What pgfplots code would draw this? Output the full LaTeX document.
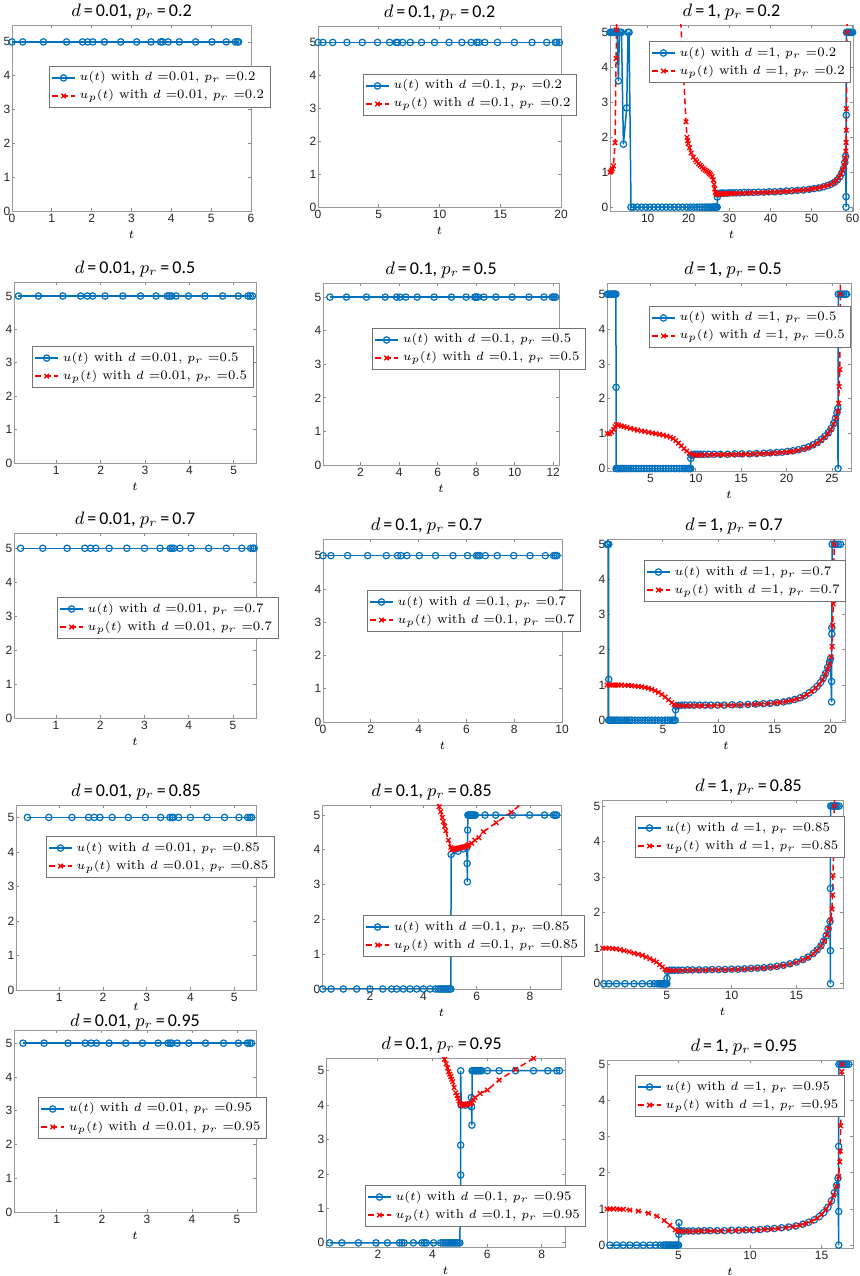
\documentclass[border=0pt]{standalone}
\usepackage{fontspec}
\usepackage{pgfplots}
\pgfplotsset{compat=1.18}
\newfontfamily\tickfont{Liberation Sans}
\newfontfamily\titlefont{Carlito}
\definecolor{mblue}{RGB}{0,114,189}
\newcommand{\ttl}[2]{$d$\,=\,#1, $p_r$\,=\,#2}
\newcommand{\leg}[2]{\legend{{$u(t)$ with $d$ =#1, $p_r$ =#2},{$u_p(t)$ with $d$ =#1, $p_r$ =#2}}}
\pgfplotsset{
  shortleg/.style={legend image code/.code={\draw[mark repeat=2,mark phase=2] plot coordinates {(0cm,0cm) (0.2cm,0cm) (0.4cm,0cm)};}},
  uline/.style={shortleg, color=mblue, solid, line width=0.75pt, mark=o, mark size=1.6pt, mark options={solid, line width=0.6pt}},
  upline/.style={shortleg, color=red, dash pattern=on 3pt off 1.8pt, line width=0.75pt, mark=x, mark size=1.6pt, mark options={solid, line width=0.65pt}},
  panel/.style={
    scale only axis, anchor=south west,
    axis line style={black!40},
    every tick/.style={black!45, line width=0.4pt},
    major tick length=1.6pt,
    tick align=inside,
    ticklabel style={font=\tickfont\fontsize{6}{6.5}\selectfont, text=black!85},
    yticklabel style={inner xsep=0.6pt},
    xticklabel style={inner ysep=1.5pt},
    /pgf/number format/assume math mode=true,
    ytick={0,1,2,3,4,5},
    xlabel={$t$},
    xlabel style={font=\fontsize{6.5}{7}\selectfont, inner sep=1pt, yshift=-1.5pt},
    title style={font=\titlefont\fontsize{9}{10}\selectfont, inner sep=2pt, yshift=-5.75pt},
    legend style={font=\fontsize{6.5}{7.4}\selectfont, draw=black!55, fill=white, anchor=north west, inner xsep=1pt, inner ysep=0.8pt, row sep=-1pt},
    legend cell align=left,
    clip=true,
  },
}
\begin{document}
\begin{tikzpicture}
\useasboundingbox (0pt,0pt) rectangle (430pt,638pt);
% ---------------- row 1 ----------------
\begin{axis}[panel, at={(6pt,532.5pt)}, width=119.5pt, height=93pt, xmin=0, xmax=6, ymin=0, ymax=5.5, xtick={0,...,6}, title={\ttl{0.01}{0.2}}, legend style={at={(0.155,0.78)}}]
\addplot[uline] coordinates {(0,5)(0.27,5)(0.79,5)(1.37,5)(1.77,5)(1.90,5)(2.03,5)(2.32,5)(2.73,5)(3.13,5)(3.49,5)(3.73,5)(3.78,5)(3.92,5)(4.20,5)(4.61,5)(5.02,5)(5.38,5)(5.61,5)(5.66,5)(5.69,5)};
\addlegendimage{upline}
\leg{0.01}{0.2}
\end{axis}
\begin{axis}[panel, at={(159pt,534.5pt)}, width=121.5pt, height=90.5pt, xmin=0, xmax=20, ymin=0, ymax=5.5, xtick={0,5,...,20}, title={\ttl{0.1}{0.2}}, legend style={at={(0.185,0.735)}}]
\addplot[uline] coordinates {(0,5)(0.41,5)(1.21,5)(2.38,5)(3.64,5)(4.9,5)(5.89,5)(6.44,5)(6.55,5)(6.96,5)(7.59,5)(8.52,5)(9.59,5)(10.79,5)(11.84,5)(12.6,5)(13.07,5)(13.23,5)(13.73,5)(14.77,5)(16.16,5)(17.62,5)(18.82,5)(19.53,5)(19.64,5)(19.86,5)};
\addlegendimage{upline}
\leg{0.1}{0.2}
\end{axis}
\begin{axis}[panel, at={(305pt,532.5pt)}, width=121.5pt, height=93pt, xmin=0.8, xmax=60.1, ymin=-0.11, ymax=5.21, xtick={10,20,...,60}, title={\ttl{1}{0.2}}, legend style={at={(0.16,0.914)}}]
\addplot[uline] coordinates {(0.8,5)(1.05,5)(1.3,5)(1.55,5)(1.8,5)(2.05,5)(2.3,5)(2.55,5)(2.85,3.61)(3.1,5)(3.35,5)(3.6,5)(4.07,1.8)(4.88,2.84)(5.2,5)(5.45,5)(5.93,0)(6.5,0)(7.5,0)(8.5,0)(9.5,0)(10.5,0)(11.5,0)(12.5,0)(13.5,0)(14.5,0)(15.5,0)(16.5,0)(17.5,0)(18.5,0)(19.5,0)(20.4,0)(21.2,0)(22,0)(22.7,0)(23.3,0)(23.9,0)(24.4,0)(24.9,0)(25.3,0)(25.7,0)(26,0)(26.3,0)(26.55,0)(26.8,0)(26.95,0)(27,0.29)(27.1,0.38)(27.3,0.39)(27.6,0.39)(27.9,0.4)(28.3,0.4)(28.8,0.4)(29.4,0.4)(30,0.41)(30.8,0.41)(31.6,0.41)(32.5,0.41)(33.5,0.42)(34.6,0.42)(35.8,0.42)(37,0.43)(38.3,0.43)(39.6,0.44)(41,0.44)(42.4,0.45)(43.8,0.46)(45.2,0.47)(46.6,0.48)(48,0.49)(49.4,0.51)(50.6,0.53)(51.8,0.55)(52.9,0.58)(53.9,0.62)(54.8,0.66)(55.6,0.71)(56.3,0.78)(56.9,0.87)(57.4,0.98)(57.8,1.1)(58.1,1.28)(58.3,1.45)(58.4,0.3)(58.4,0)(58.45,2.63)(58.45,4.15)(58.5,5)(58.75,5)(59,5)(59.25,5)(59.5,5)(59.75,5)(60,5)};
\addplot[upline] coordinates {(0.8,1.0)(1.0,1.01)(1.2,1.05)(1.4,1.1)(1.63,1.18)(2.03,1.84)(2.28,4.25)(2.4,5.07)(2.6,9)(3,30)(17.8,30)(17.95,5.55)(19.35,2.44)(19.6,2.0)(19.75,1.9)(19.9,1.82)(20.2,1.7)(20.6,1.55)(21.1,1.43)(21.6,1.35)(22.0,1.3)(22.4,1.24)(22.8,1.2)(23.2,1.15)(23.6,1.1)(24.0,1.06)(24.4,1.03)(24.8,1.0)(25.1,0.96)(25.4,0.92)(25.7,0.87)(26.0,0.78)(26.2,0.65)(26.35,0.52)(26.5,0.43)(26.7,0.38)(26.9,0.37)(27.2,0.37)(27.5,0.37)(27.8,0.38)(28.1,0.38)(28.5,0.38)(29,0.38)(29.5,0.39)(30.1,0.39)(30.8,0.39)(31.5,0.39)(32.3,0.4)(33.2,0.4)(34.1,0.4)(35,0.41)(36,0.41)(37,0.41)(38,0.42)(39,0.42)(40,0.43)(41,0.43)(42,0.44)(43,0.44)(44,0.45)(45,0.46)(46,0.47)(47,0.48)(48,0.49)(49,0.5)(50,0.52)(51,0.54)(52,0.56)(53,0.59)(54,0.62)(54.8,0.66)(55.5,0.71)(56.1,0.77)(56.7,0.85)(57.2,0.95)(57.6,1.06)(57.9,1.17)(58.1,1.28)(58.25,1.4)(58.35,1.6)(58.42,1.85)(58.47,2.2)(58.5,2.82)(58.55,3.63)(58.6,4.49)(58.65,5.0)(58.7,6.5)};
\leg{1}{0.2}
\end{axis}
% ---------------- row 2 ----------------
\begin{axis}[panel, at={(7pt,406.5pt)}, width=121pt, height=90.5pt, xmin=0.05, xmax=5.5, ymin=0, ymax=5.42, xtick={1,...,5}, title={\ttl{0.01}{0.5}}, legend style={at={(0.075,0.646)}}]
\addplot[uline] coordinates {(0.15,5)(0.6,5)(1.15,5)(1.55,5)(1.7,5)(1.82,5)(2.1,5)(2.5,5)(2.9,5)(3.25,5)(3.5,5)(3.55,5)(3.6,5)(3.7,5)(3.98,5)(4.35,5)(4.75,5)(5.1,5)(5.32,5)(5.37,5)(5.42,5)};
\addlegendimage{upline}
\leg{0.01}{0.5}
\end{axis}
\begin{axis}[panel, at={(161.5pt,405.5pt)}, width=118pt, height=91pt, xmin=0.05, xmax=12.3, ymin=0, ymax=5.42, xtick={2,4,...,12}, title={\ttl{0.1}{0.5}}, legend style={at={(0.208,0.753)}}]
\addplot[uline] coordinates {(0.41,5)(1.27,5)(2.31,5)(3.28,5)(3.87,5)(4.04,5)(4.35,5)(4.94,5)(5.82,5)(6.72,5)(7.48,5)(7.93,5)(8.00,5)(8.09,5)(8.40,5)(9.02,5)(9.87,5)(10.74,5)(11.52,5)(11.95,5)(12.03,5)(12.12,5)};
\addlegendimage{upline}
\leg{0.1}{0.5}
\end{axis}
\begin{axis}[panel, at={(303.5pt,402.5pt)}, width=122pt, height=94pt, xmin=0.22, xmax=27.1, ymin=-0.07, ymax=5.32, xtick={5,10,...,25}, title={\ttl{1}{0.5}}, title style={xshift=2pt}, legend style={at={(0.172,0.878)}}]
\addplot[uline] coordinates {(0.26,5)(0.4,5)(0.55,5)(0.7,5)(0.85,5)(1.0,5)(1.1,5)(1.2,5)(1.22,2.33)(1.22,0)(1.35,0)(1.5,0)(1.7,0)(1.9,0)(2.1,0)(2.35,0)(2.6,0)(2.85,0)(3.1,0)(3.4,0)(3.7,0)(4.0,0)(4.3,0)(4.6,0)(4.9,0)(5.2,0)(5.5,0)(5.8,0)(6.1,0)(6.4,0)(6.7,0)(7.0,0)(7.3,0)(7.6,0)(7.9,0)(8.2,0)(8.5,0)(8.75,0)(9.0,0)(9.2,0)(9.35,0)(9.44,0)(9.45,0.29)(9.55,0.38)(9.7,0.4)(9.9,0.41)(10.2,0.41)(10.5,0.41)(10.9,0.41)(11.4,0.41)(12,0.41)(12.7,0.41)(13.5,0.41)(14.3,0.42)(15.1,0.42)(15.9,0.42)(16.7,0.43)(17.5,0.44)(18.2,0.45)(18.9,0.46)(19.5,0.47)(20.1,0.49)(20.7,0.51)(21.3,0.54)(21.9,0.58)(22.4,0.62)(22.9,0.68)(23.4,0.75)(23.8,0.83)(24.2,0.92)(24.6,1.03)(24.9,1.15)(25.2,1.3)(25.4,1.45)(25.55,1.6)(25.65,1.72)(25.67,0)(25.7,5)(25.9,5)(26.1,5)(26.3,5)(26.5,5)(26.6,5)};
\addplot[upline] coordinates {(0.26,1.0)(0.5,1.0)(0.75,1.05)(0.95,1.12)(1.1,1.2)(1.25,1.26)(1.5,1.25)(1.8,1.22)(2.1,1.2)(2.4,1.18)(2.8,1.15)(3.2,1.13)(3.6,1.1)(4.0,1.08)(4.4,1.06)(4.8,1.04)(5.2,1.02)(5.6,1.0)(6.0,0.98)(6.4,0.96)(6.8,0.93)(7.2,0.9)(7.5,0.86)(7.8,0.8)(8.1,0.73)(8.4,0.65)(8.7,0.57)(9.0,0.5)(9.3,0.44)(9.6,0.4)(9.9,0.38)(10.2,0.39)(10.5,0.39)(11,0.39)(11.5,0.39)(12,0.4)(12.5,0.4)(13,0.4)(13.5,0.4)(14,0.4)(14.5,0.4)(15,0.41)(15.5,0.41)(16,0.41)(16.5,0.42)(17,0.42)(17.5,0.43)(18,0.43)(18.5,0.44)(19,0.45)(19.5,0.46)(20,0.47)(20.4,0.48)(20.8,0.5)(21.3,0.52)(21.9,0.56)(22.4,0.6)(22.9,0.66)(23.4,0.73)(23.8,0.81)(24.2,0.9)(24.6,1.0)(24.9,1.12)(25.2,1.27)(25.45,1.45)(25.65,1.65)(25.74,1.87)(25.8,2.35)(25.87,2.84)(25.9,3.85)(25.93,5.0)(25.97,6.5)};
\leg{1}{0.5}
\end{axis}
% ---------------- row 3 ----------------
\begin{axis}[panel, at={(7pt,279pt)}, width=121pt, height=92.5pt, xmin=0.05, xmax=5.52, ymin=0, ymax=5.45, xtick={1,...,5}, title={\ttl{0.01}{0.7}}, legend style={at={(0.178,0.654)}}]
\addplot[uline] coordinates {(0.2,5)(0.7,5)(1.25,5)(1.65,5)(1.78,5)(1.9,5)(2.2,5)(2.6,5)(3.0,5)(3.35,5)(3.58,5)(3.62,5)(3.66,5)(3.8,5)(4.05,5)(4.45,5)(4.85,5)(5.2,5)(5.4,5)(5.45,5)(5.48,5)};
\addlegendimage{upline}
\leg{0.01}{0.7}
\end{axis}
\begin{axis}[panel, at={(161.5pt,277pt)}, width=119.5pt, height=91.5pt, xmin=0, xmax=10, ymin=0, ymax=5.5, xtick={0,2,...,10}, title={\ttl{0.1}{0.7}}, title style={xshift=-8pt}, legend style={at={(0.184,0.721)}}]
\addplot[uline] coordinates {(0,5)(0.33,5)(1.03,5)(1.87,5)(2.65,5)(3.12,5)(3.26,5)(3.51,5)(4.03,5)(4.71,5)(5.44,5)(6.05,5)(6.42,5)(6.49,5)(6.56,5)(6.79,5)(7.29,5)(7.98,5)(8.66,5)(9.30,5)(9.65,5)(9.72,5)(9.79,5)};
\addlegendimage{upline}
\leg{0.1}{0.7}
\end{axis}
\begin{axis}[panel, at={(303.5pt,277pt)}, width=119pt, height=91.5pt, xmin=0, xmax=21.3, ymin=-0.05, ymax=5.15, xtick={5,10,15,20}, title={\ttl{1}{0.7}}, title style={xshift=4pt}, legend style={at={(0.155,0.885)}}]
\addplot[uline] coordinates {(0.0,5)(0.05,5)(0.1,5)(0.15,5)(0.15,1.16)(0.15,0)(0.25,0)(0.4,0)(0.55,0)(0.7,0)(0.85,0)(1.0,0)(1.2,0)(1.4,0)(1.6,0)(1.8,0)(2.0,0)(2.2,0)(2.5,0)(2.8,0)(3.1,0)(3.4,0)(3.7,0)(4.0,0)(4.3,0)(4.6,0)(4.9,0)(5.2,0)(5.45,0)(5.65,0)(5.85,0)(6.0,0)(6.1,0)(6.14,0.30)(6.2,0.4)(6.4,0.42)(6.7,0.43)(7.0,0.43)(7.4,0.43)(7.8,0.43)(8.3,0.43)(8.8,0.43)(9.3,0.43)(9.9,0.43)(10.5,0.43)(11.2,0.44)(11.9,0.44)(12.6,0.45)(13.3,0.46)(14.0,0.47)(14.6,0.48)(15.2,0.5)(15.8,0.52)(16.3,0.55)(16.8,0.59)(17.3,0.64)(17.7,0.7)(18.1,0.78)(18.5,0.87)(18.8,0.96)(19.1,1.07)(19.35,1.2)(19.55,1.33)(19.75,1.5)(19.9,1.65)(20.0,1.75)(20.1,0.52)(20.1,1.1)(20.12,2.45)(20.12,2.63)(20.14,3.6)(20.15,5)(20.35,5)(20.5,5)(20.7,5)(20.9,5)};
\addplot[upline] coordinates {(0,1.0)(0.2,1.0)(0.4,1.0)(0.6,1.0)(0.8,1.0)(1.0,1.0)(1.3,1.0)(1.6,0.99)(1.9,0.99)(2.2,0.98)(2.5,0.97)(2.8,0.96)(3.1,0.95)(3.4,0.93)(3.7,0.91)(4.0,0.88)(4.3,0.84)(4.6,0.79)(4.9,0.73)(5.2,0.66)(5.5,0.58)(5.8,0.5)(6.0,0.45)(6.2,0.42)(6.5,0.41)(6.8,0.41)(7.1,0.41)(7.5,0.41)(8,0.41)(8.5,0.41)(9,0.41)(9.6,0.41)(10.2,0.42)(10.8,0.42)(11.4,0.42)(12,0.43)(12.6,0.44)(13.2,0.45)(13.8,0.46)(14.4,0.47)(15,0.49)(15.5,0.51)(16,0.53)(16.5,0.56)(17,0.6)(17.5,0.66)(17.9,0.73)(18.3,0.82)(18.7,0.92)(19,1.02)(19.3,1.15)(19.55,1.3)(19.75,1.45)(19.9,1.6)(20.05,1.8)(20.15,2.1)(20.2,2.7)(20.25,3.3)(20.28,3.5)(20.3,4.2)(20.33,5.0)(20.36,6.5)};
\leg{1}{0.7}
\end{axis}
% ---------------- row 4 ----------------
\begin{axis}[panel, at={(8pt,143pt)}, width=120pt, height=92.5pt, xmin=0.01, xmax=5.5, ymin=0, ymax=5.36, xtick={1,...,5}, title={\ttl{0.01}{0.85}}, xlabel style={yshift=3.6pt}, legend style={at={(0.125,0.832)}}]
\addplot[uline] coordinates {(0.27,5)(0.76,5)(1.29,5)(1.67,5)(1.80,5)(1.93,5)(2.21,5)(2.58,5)(2.97,5)(3.32,5)(3.53,5)(3.58,5)(3.61,5)(3.73,5)(4.00,5)(4.38,5)(4.78,5)(5.11,5)(5.31,5)(5.36,5)(5.40,5)};
\addlegendimage{upline}
\leg{0.01}{0.85}
\end{axis}
\begin{axis}[panel, at={(161pt,143.5pt)}, width=119.5pt, height=92pt, xmin=0.2, xmax=9.16, ymin=0, ymax=5.29, xtick={2,4,6,8}, title={\ttl{0.1}{0.85}}, title style={xshift=-5pt}, legend style={at={(0.172,0.402)}}]
\addplot[uline] coordinates {(0.23,0)(0.54,0)(1.0,0)(1.5,0)(2.0,0)(2.48,0)(2.81,0)(3.0,0)(3.25,0)(3.5,0)(3.75,0)(4.0,0)(4.25,0)(4.45,0)(4.55,0)(4.62,0)(4.68,0)(4.74,0)(4.8,0)(4.86,0)(4.92,0)(4.98,0)(5.03,0)(5.04,3.87)(5.3,3.96)(5.5,4.03)(5.63,4.07)(5.64,3.61)(5.65,3.08)(5.66,4.57)(5.67,5)(5.7,5)(5.74,5)(5.78,5)(5.82,5)(5.86,5)(5.9,5)(5.95,5)(6.31,5)(6.71,5)(7.34,5)(7.98,5)(8.54,5)(8.88,5)(8.94,5)(9.0,5)};
\addplot[upline] coordinates {(4.45,5.6)(4.59,5.24)(4.65,5.1)(4.71,4.93)(4.75,4.81)(4.8,4.68)(4.84,4.55)(4.94,4.28)(5.03,4.07)(5.06,4.0)(5.1,4.01)(5.15,4.02)(5.2,4.03)(5.25,4.04)(5.3,4.05)(5.35,4.05)(5.4,4.06)(5.45,4.07)(5.5,4.08)(5.55,4.09)(5.6,4.1)(5.65,4.12)(5.7,4.15)(5.81,4.19)(5.93,4.28)(6.08,4.35)(6.25,4.52)(6.73,4.78)(7.29,5.08)(7.8,5.4)};
\leg{0.1}{0.85}
\end{axis}
\begin{axis}[panel, at={(301pt,144pt)}, width=120.5pt, height=94pt, xmin=0, xmax=18.6, ymin=-0.12, ymax=5.17, xtick={5,10,15}, title={\ttl{1}{0.85}}, title style={xshift=13pt}, legend style={at={(0.137,0.915)}}]
\addplot[uline] coordinates {(0.14,0)(0.53,0)(1.12,0)(1.77,0)(2.47,0)(3.11,0)(3.71,0)(4.02,0)(4.28,0)(4.4,0)(4.5,0)(4.58,0)(4.66,0)(4.72,0)(4.78,0)(4.84,0)(4.9,0)(4.95,0)(5.0,0)(5.02,0.15)(5.05,0.35)(5.2,0.38)(5.4,0.38)(5.6,0.38)(5.9,0.38)(6.2,0.38)(6.6,0.39)(7.0,0.39)(7.5,0.39)(8.0,0.39)(8.5,0.4)(9.0,0.4)(9.5,0.4)(10.0,0.41)(10.5,0.41)(11.0,0.42)(11.5,0.43)(12.0,0.44)(12.5,0.45)(13.0,0.47)(13.5,0.49)(14.0,0.52)(14.5,0.56)(15.0,0.61)(15.5,0.68)(15.9,0.75)(16.3,0.85)(16.6,0.95)(16.9,1.07)(17.1,1.2)(17.3,1.35)(17.45,1.55)(17.6,1.75)(17.63,0)(17.63,0.93)(17.63,2.68)(17.63,3.72)(17.65,5)(17.75,5)(17.85,5)(17.95,5)(18.05,5)(18.15,5)(18.3,5)};
\addplot[upline] coordinates {(0.05,1.0)(0.3,1.0)(0.55,1.0)(0.8,0.99)(1.1,0.98)(1.4,0.96)(1.7,0.93)(2.1,0.9)(2.47,0.86)(2.8,0.83)(3.11,0.8)(3.4,0.75)(3.7,0.7)(4.0,0.65)(4.2,0.61)(4.45,0.54)(4.66,0.47)(4.85,0.41)(5.0,0.38)(5.2,0.37)(5.5,0.37)(5.8,0.37)(6.2,0.37)(6.6,0.38)(7.0,0.38)(7.5,0.38)(8.0,0.38)(8.5,0.39)(9.0,0.39)(9.5,0.39)(10.0,0.4)(10.5,0.4)(11.0,0.41)(11.5,0.42)(12.0,0.43)(12.5,0.44)(13.0,0.46)(13.5,0.48)(14.0,0.51)(14.5,0.55)(15.0,0.6)(15.5,0.67)(15.9,0.74)(16.3,0.84)(16.6,0.94)(16.9,1.06)(17.15,1.2)(17.35,1.38)(17.5,1.55)(17.65,1.8)(17.75,2.1)(17.8,2.5)(17.83,3.05)(17.86,3.7)(17.88,3.9)(17.9,4.6)(17.93,5.0)(17.96,6.5)};
\leg{1}{0.85}
\end{axis}
% ---------------- row 5 ----------------
\begin{axis}[panel, at={(7pt,32pt)}, width=121pt, height=91pt, xmin=0.05, xmax=5.42, ymin=0, ymax=5.39, xtick={1,...,5}, title={\ttl{0.01}{0.95}}, title style={yshift=-2.3pt}, legend style={at={(0.1,0.632)}}]
\addplot[uline] coordinates {(0.25,5)(0.72,5)(1.25,5)(1.63,5)(1.76,5)(1.88,5)(2.16,5)(2.53,5)(2.9,5)(3.25,5)(3.47,5)(3.52,5)(3.55,5)(3.67,5)(3.93,5)(4.3,5)(4.7,5)(5.03,5)(5.23,5)(5.28,5)(5.32,5)};
\addlegendimage{upline}
\leg{0.01}{0.95}
\end{axis}
\begin{axis}[panel, at={(163pt,14.5pt)}, width=119.5pt, height=94.5pt, xmin=0.1, xmax=8.85, ymin=-0.12, ymax=5.37, xtick={2,4,6,8}, title={\ttl{0.1}{0.95}}, title style={xshift=-2pt}, legend style={at={(0.163,0.328)}}]
\addplot[uline] coordinates {(0.23,0)(0.68,0)(1.29,0)(1.93,0)(2.35,0)(2.79,0)(2.88,0)(2.96,0)(3.30,0)(3.61,0)(3.70,0)(3.77,0)(4.04,0)(4.3,0)(4.38,0)(4.45,0)(4.52,0)(4.58,0)(4.64,0)(4.7,0)(4.76,0)(4.82,0)(4.88,0)(4.94,0)(5.0,0)(5.03,1.97)(5.03,2.84)(5.03,5)(5.05,4.0)(5.2,4.0)(5.35,4.0)(5.42,4.22)(5.43,3.95)(5.44,3.42)(5.45,5)(5.5,5)(5.55,5)(5.6,5)(5.65,5)(5.7,5)(5.75,5)(5.8,5)(6.01,5)(6.44,5)(7.04,5)(7.70,5)(8.22,5)(8.55,5)(8.65,5)};
\addplot[upline] coordinates {(4.4,5.7)(4.44,5.33)(4.5,5.2)(4.55,5.08)(4.59,4.97)(4.63,4.9)(4.67,4.83)(4.7,4.75)(4.74,4.68)(4.79,4.51)(4.85,4.36)(4.9,4.28)(4.93,4.2)(4.97,4.12)(5.01,4.05)(5.05,4.0)(5.1,4.0)(5.15,4.01)(5.2,4.01)(5.25,4.02)(5.3,4.03)(5.35,4.04)(5.4,4.05)(5.45,4.08)(5.5,4.15)(5.56,4.22)(5.74,4.34)(6.01,4.44)(6.44,4.73)(7.04,5.04)(7.7,5.36)(7.8,5.5)};
\leg{0.1}{0.95}
\end{axis}
\begin{axis}[panel, at={(303.5pt,14pt)}, width=123pt, height=94pt, xmin=0, xmax=17.2, ymin=-0.08, ymax=5.12, xtick={5,10,15}, title={\ttl{1}{0.95}}, title style={xshift=7pt}, legend style={at={(0.114,0.92)}}]
\addplot[uline] coordinates {(0.2,0)(0.67,0)(1.14,0)(1.6,0)(2.07,0)(2.54,0)(3.0,0)(3.4,0)(3.71,0)(3.95,0)(4.05,0)(4.15,0)(4.25,0)(4.35,0)(4.45,0)(4.55,0)(4.65,0)(4.75,0)(4.85,0)(4.95,0)(5.0,0)(5.02,0.3)(5.03,0.62)(5.05,0.4)(5.2,0.39)(5.4,0.39)(5.7,0.39)(6.0,0.39)(6.4,0.39)(6.8,0.4)(7.2,0.4)(7.7,0.4)(8.2,0.4)(8.7,0.41)(9.2,0.41)(9.7,0.42)(10.2,0.42)(10.7,0.43)(11.2,0.45)(11.7,0.46)(12.2,0.48)(12.7,0.5)(13.2,0.53)(13.7,0.58)(14.1,0.63)(14.5,0.7)(14.85,0.79)(15.15,0.9)(15.45,1.05)(15.7,1.23)(15.9,1.45)(16.05,1.65)(16.15,1.85)(16.2,0)(16.2,0.93)(16.2,2.73)(16.2,3.77)(16.22,5)(16.35,5)(16.45,5)(16.55,5)(16.65,5)(16.75,5)(16.9,5)};
\addplot[upline] coordinates {(0.0,1.0)(0.2,1.0)(0.45,1.0)(0.7,1.0)(0.9,0.99)(1.14,0.99)(1.6,0.97)(2.19,0.94)(2.9,0.88)(3.48,0.8)(4.0,0.68)(4.4,0.55)(4.77,0.42)(5.0,0.38)(5.2,0.38)(5.5,0.38)(5.8,0.38)(6.2,0.38)(6.6,0.39)(7.0,0.39)(7.5,0.39)(8.0,0.39)(8.5,0.4)(9.0,0.4)(9.5,0.41)(10.0,0.41)(10.5,0.42)(11.0,0.43)(11.5,0.44)(12.0,0.46)(12.5,0.48)(13.0,0.51)(13.5,0.55)(13.9,0.6)(14.3,0.66)(14.7,0.75)(15.0,0.85)(15.3,0.98)(15.6,1.16)(15.85,1.38)(16.05,1.62)(16.2,1.9)(16.27,2.3)(16.31,2.6)(16.34,3.3)(16.37,3.85)(16.39,4.07)(16.42,4.8)(16.45,5.0)(16.48,6.5)};
\leg{1}{0.95}
\end{axis}
\end{tikzpicture}
\end{document}
